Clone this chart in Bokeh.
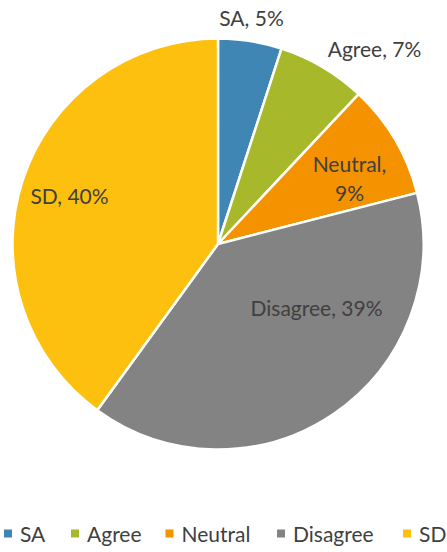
import math
from bokeh.plotting import figure
from bokeh.models import Range1d, ColumnDataSource
from bokeh.core.properties import value
from bokeh.embed import file_html
from bokeh.resources import INLINE

# ---- data ----
categories = ["SA", "Agree", "Neutral", "Disagree", "SD"]
percents = [5, 7, 9, 39, 40]
colors = ["#4086B4", "#A7B92A", "#F49200", "#838383", "#FDC00E"]

# ---- layout (pixel-like data space: x = image x, y = 552 - image y) ----
W, H = 447, 552
CX, CY, R = 217.5, H - 243.5, 205.5
FONT = "Lato"
FS = "21px"
TEXT_COLOR = "#404040"

# label offsets from pie centre (dx right, dy up), in px
label_offsets = [(33.5, 226.5), (156.5, 195.5), (131.5, 66.0), (98.5, -63.5), (-148.5, 48.5)]

p = figure(width=W, height=H, output_backend="svg", toolbar_location=None,
           x_range=Range1d(0, W), y_range=Range1d(0, H),
           min_border=0, outline_line_color=None)
p.axis.visible = False
p.grid.visible = False
p.background_fill_color = "white"
p.border_fill_color = "white"

total = sum(percents)
starts, ends = [], []
cum = 0.0
for v in percents:
    starts.append(math.pi / 2 - 2 * math.pi * cum / total)
    cum += v
    ends.append(math.pi / 2 - 2 * math.pi * cum / total)

src = ColumnDataSource(dict(start=starts, end=ends, color=colors, cat=categories))
p.wedge(x=CX, y=CY, radius=R, start_angle="start", end_angle="end", direction="clock",
        fill_color="color", line_color="white", line_width=2.5, source=src)

# data labels
for cat, v, (dx, dy) in zip(categories, percents, label_offsets):
    if cat == "Neutral":
        p.text(x=[CX + dx], y=[CY + dy + 14.5], text=[f"{cat},"], text_align="center",
               text_baseline="middle", text_font=value(FONT), text_font_size=FS,
               text_color=TEXT_COLOR)
        p.text(x=[CX + dx], y=[CY + dy - 14.5], text=[f"{v}%"], text_align="center",
               text_baseline="middle", text_font=value(FONT), text_font_size=FS,
               text_color=TEXT_COLOR)
    else:
        p.text(x=[CX + dx], y=[CY + dy], text=[f"{cat}, {v}%"], text_align="center",
               text_baseline="middle", text_font=value(FONT), text_font_size=FS,
               text_color=TEXT_COLOR)

# legend
legend_x = [7.5, 74.5, 169, 280.5, 406.5]
legend_y = H - 533
p.scatter(x=legend_x, y=[legend_y] * 5, marker="square", size=8, fill_color=colors,
          line_color=None)
p.text(x=[x + 12 for x in legend_x], y=[legend_y] * 5, text=categories, text_align="left",
       text_baseline="middle", text_font=value(FONT), text_font_size=FS,
       text_color=TEXT_COLOR)

open("out.html", "w").write(file_html(p, INLINE))
